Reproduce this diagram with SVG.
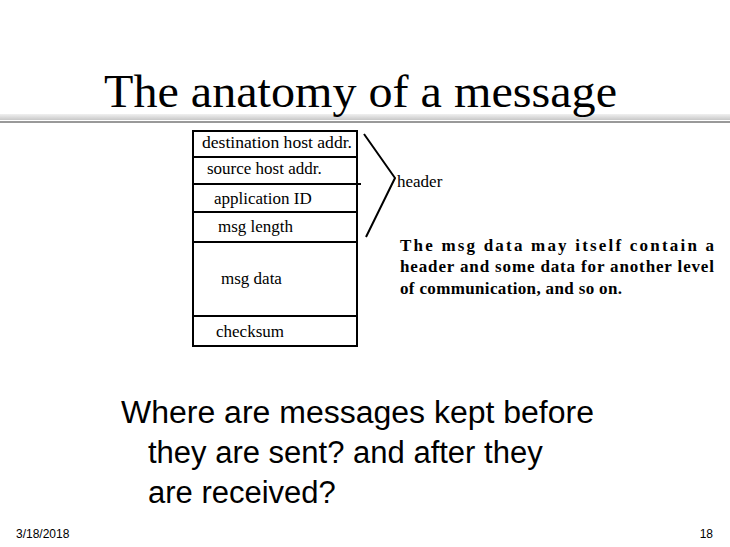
<svg xmlns="http://www.w3.org/2000/svg" width="730" height="547" viewBox="0 0 730 547">
<style>
.f{font-family:"Liberation Serif",serif;font-size:17px;fill:#000}
.b{stroke:#000;stroke-width:2;fill:none}
.s{font-family:"Liberation Sans",Arial,sans-serif;fill:#000}
</style>
<defs><linearGradient id="g" x1="0" y1="0" x2="0" y2="1"><stop offset="0" stop-color="#f0f0f0"/><stop offset="1" stop-color="#c8c8c8"/></linearGradient></defs>
<rect width="730" height="547" fill="#fff"/>
<rect x="0" y="114" width="730" height="6" fill="url(#g)"/>
<rect x="0" y="121" width="730" height="2" fill="#999"/>
<text x="104" y="107" font-family="Liberation Serif,serif" font-size="47" textLength="513" lengthAdjust="spacingAndGlyphs">The anatomy of a message</text>
<g id="packet">
<rect x="193" y="131" width="164" height="215" class="b"/>
<line x1="193" y1="157" x2="357" y2="157" class="b"/>
<line x1="193" y1="184" x2="361" y2="184" class="b"/>
<line x1="193" y1="212" x2="357" y2="212" class="b"/>
<line x1="193" y1="242" x2="357" y2="242" class="b"/>
<line x1="193" y1="316" x2="357" y2="316" class="b"/>
<text x="202" y="148" class="f" textLength="150" lengthAdjust="spacingAndGlyphs">destination host addr.</text>
<text x="207" y="174" class="f">source host addr.</text>
<text x="214" y="204" class="f">application ID</text>
<text x="218" y="232" class="f">msg  length</text>
<text x="221" y="284" class="f">msg data</text>
<text x="216" y="337" class="f">checksum</text>
</g>
<g id="connectors">
<polyline points="364,134 395,178 366,237" class="b"/>
</g>
<g id="header"><text x="397" y="187" class="f">header</text></g>
<g id="note" class="f" font-size="15" font-weight="bold">
<text x="400" y="251" textLength="314" lengthAdjust="spacing">The msg data may itself contain a</text>
<text x="400" y="272" textLength="314" lengthAdjust="spacing">header and some data for another level</text>
<text x="400" y="294" textLength="222" lengthAdjust="spacing">of communication, and so on.</text>
</g>
<g id="question" class="s" font-size="31">
<text x="121" y="423" textLength="473" lengthAdjust="spacingAndGlyphs">Where are messages kept before</text>
<text x="148" y="463">they are sent? and after they</text>
<text x="148" y="503">are received?</text>
</g>
<text x="16" y="538" class="s" font-size="12">3/18/2018</text>
<text x="713" y="538" class="s" font-size="12" text-anchor="end">18</text>
</svg>
